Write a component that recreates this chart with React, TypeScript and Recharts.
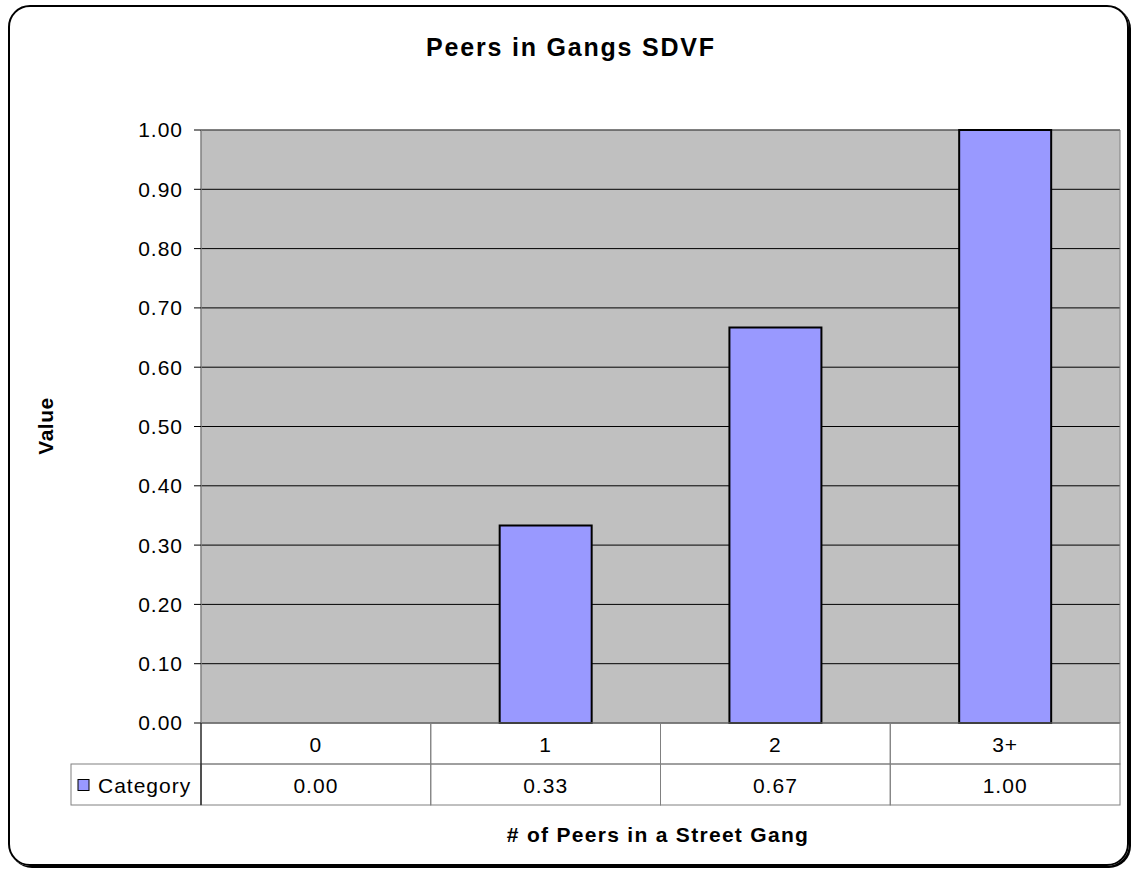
import React from 'react';
import { BarChart, Bar, XAxis, YAxis, CartesianGrid, ReferenceArea } from 'recharts';

const categories = ['0', '1', '2', '3+'];
const values = [0, 0.333, 0.667, 1.0];
const yTicks = [0, 0.1, 0.2, 0.3, 0.4, 0.5, 0.6, 0.7, 0.8, 0.9, 1.0];
const seriesName = 'Category';

const data = categories.map((name, i) => ({ name, value: values[i] }));

// layout (page coords)
const W = 1133;
const H = 871;
const PLOT_LEFT = 201;
const PLOT_RIGHT = 1120;
const PLOT_TOP = 130;
const PLOT_BOTTOM = 723;
const Y_AXIS_W = 80;
const X_AXIS_H = 82;
const ROW_H = 41;
const CELL_W = (PLOT_RIGHT - PLOT_LEFT) / categories.length;
const FONT = '"Liberation Sans", Arial, sans-serif';
const BAR_FILL = '#9999FF';

const TableTick = (props: any) => {
  const { x, y, payload, index } = props;
  const i = payload?.index ?? index;
  const left = x - CELL_W / 2;
  const txt = { fontFamily: FONT, fontSize: 21, letterSpacing: 1, fill: '#000' };
  return (
    <g>
      <rect x={left} y={y} width={CELL_W} height={ROW_H} fill="none" stroke="#808080" />
      <rect x={left} y={y + ROW_H} width={CELL_W} height={ROW_H} fill="none" stroke="#808080" />
      <text x={x} y={y + ROW_H / 2 + 1} textAnchor="middle" dominantBaseline="central" {...txt}>
        {payload.value}
      </text>
      <text x={x} y={y + ROW_H * 1.5 + 1} textAnchor="middle" dominantBaseline="central" {...txt}>
        {values[i].toFixed(2)}
      </text>
      {i === 0 && (
        <g>
          <rect x={71} y={y + ROW_H} width={left - 71} height={ROW_H} fill="none" stroke="#808080" />
          <rect x={78} y={y + ROW_H * 1.5 - 5} width={11} height={11} fill={BAR_FILL} stroke="#000" />
          <text x={98} y={y + ROW_H * 1.5 + 1} textAnchor="start" dominantBaseline="central" {...txt}>
            {seriesName}
          </text>
          <line x1={left} x2={left} y1={y} y2={y + ROW_H * 2} stroke="#000" />
        </g>
      )}
    </g>
  );
};

export default function App() {
  return (
    <div style={{ position: 'absolute', left: 0, top: 0, width: W, height: H, background: '#fff', fontFamily: FONT }}>
      <div
        style={{
          position: 'absolute',
          left: 8,
          top: 5,
          width: 1121,
          height: 861,
          boxSizing: 'border-box',
          border: '2px solid #000',
          borderRadius: 22,
          boxShadow: '2px 2px 0 #000',
        }}
      />
      <div
        style={{
          position: 'absolute',
          left: 371,
          width: 400,
          top: 33,
          lineHeight: '28px',
          textAlign: 'center',
          fontSize: 25,
          fontWeight: 'bold',
          letterSpacing: 1.8,
        }}
      >
        Peers in Gangs SDVF
      </div>
      <div
        style={{
          position: 'absolute',
          left: 46 - 60,
          top: 426 - 12,
          width: 120,
          lineHeight: '24px',
          textAlign: 'center',
          fontSize: 21,
          fontWeight: 'bold',
          letterSpacing: 0.5,
          transform: 'rotate(-90deg)',
        }}
      >
        Value
      </div>
      <div
        style={{
          position: 'absolute',
          left: 658 - 250,
          width: 500,
          top: 823,
          lineHeight: '24px',
          textAlign: 'center',
          fontSize: 21,
          fontWeight: 'bold',
          letterSpacing: 1.3,
        }}
      >
        # of Peers in a Street Gang
      </div>
      <div style={{ position: 'absolute', left: 0, top: 0 }}>
        <BarChart
          width={W}
          height={H}
          data={data}
          barCategoryGap="30%"
          margin={{
            top: PLOT_TOP,
            right: W - PLOT_RIGHT,
            left: PLOT_LEFT - Y_AXIS_W,
            bottom: H - PLOT_BOTTOM - X_AXIS_H,
          }}
        >
          <CartesianGrid vertical={false} stroke="#000" fill="#C0C0C0" fillOpacity={1} />
          <ReferenceArea y1={0} y2={1} fill="none" stroke="#808080" strokeWidth={1} />
          <XAxis
            dataKey="name"
            height={X_AXIS_H}
            tickLine={false}
            axisLine={false}
            tickSize={0}
            tickMargin={0}
            interval={0}
            tick={<TableTick />}
          />
          <YAxis
            width={Y_AXIS_W}
            domain={[0, 1]}
            ticks={yTicks}
            interval={0}
            tickFormatter={(v: number) => v.toFixed(2)}
            axisLine={{ stroke: '#808080' }}
            tickLine={{ stroke: '#000' }}
            tickSize={7}
            tickMargin={11}
            tick={{ fontFamily: FONT, fontSize: 21, letterSpacing: 1, fill: '#000' }}
          />
          <Bar dataKey="value" name={seriesName} fill={BAR_FILL} stroke="#000" strokeWidth={2} isAnimationActive={false} />
        </BarChart>
      </div>
    </div>
  );
}
